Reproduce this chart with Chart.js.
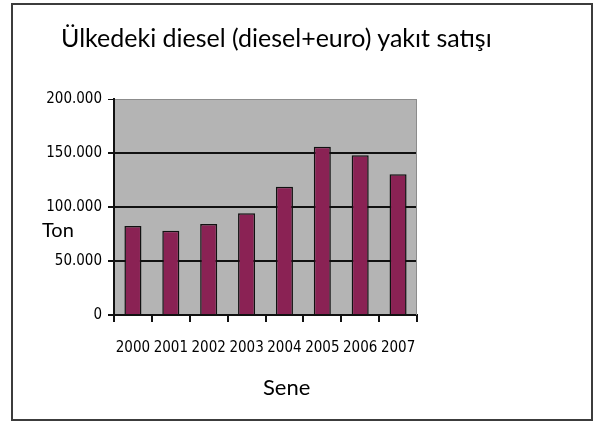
<!DOCTYPE html>
<html><head><meta charset="utf-8">
<script src="https://cdn.jsdelivr.net/npm/chart.js@4"></script>
<style>
html,body{margin:0;padding:0;background:#fff;overflow:hidden;width:593px;height:421px}
#wrap{position:relative;width:593px;height:421px}
#frame{position:absolute;left:11px;top:3px;width:582px;height:418px;box-sizing:border-box;border:2px solid #3c3c3c;}
canvas{position:absolute;left:0;top:0}
.lbl{position:absolute;color:#000;font-family:Lato,'Open Sans',sans-serif;white-space:nowrap;line-height:1}
#title{left:61px;top:25px;font-size:25px}
#ylab{left:42px;top:219px;font-size:20px}
#xlab{left:263px;top:376px;font-size:22px}
</style></head>
<body><div id="wrap"><div id="frame"></div><canvas id="c" width="593" height="421"></canvas>
<div id="title" class="lbl">Ülkedeki diesel (diesel+euro) yakıt satışı</div>
<div id="ylab" class="lbl">Ton</div><div id="xlab" class="lbl">Sene</div></div>
<script>
const years = ['2000','2001','2002','2003','2004','2005','2006','2007'];
const salesTon = [82400, 78000, 84300, 94200, 118800, 155800, 148000, 130300];
const yTickValues = [0, 50000, 100000, 150000, 200000];
const yTickLabels = ['0', '50.000', '100.000', '150.000', '200.000'];

const yTickFont = {family: "'Liberation Sans Narrow','DejaVu Sans Condensed',sans-serif", size: 15};
const xTickFont = {family: "'Liberation Sans Narrow','DejaVu Sans Condensed',sans-serif", size: 15};

const plotBg = {
  id: 'plotBg',
  beforeDraw(chart) {
    const {ctx, chartArea: a} = chart;
    ctx.save();
    ctx.fillStyle = '#b4b4b4';
    ctx.fillRect(a.left, a.top, a.right - a.left, a.bottom - a.top);
    ctx.restore();
  },
  beforeDatasetsDraw(chart) {
    const {ctx, chartArea: a} = chart;
    ctx.save();
    ctx.strokeStyle = '#8c8c8c';
    ctx.lineWidth = 1;
    ctx.beginPath();
    ctx.moveTo(a.right - 0.5, a.top);
    ctx.lineTo(a.right - 0.5, a.bottom);
    ctx.stroke();
    ctx.restore();
  }
};

new Chart(document.getElementById('c'), {
  type: 'bar',
  data: {
    labels: years,
    datasets: [{
      data: salesTon,
      backgroundColor: '#8a2254',
      borderColor: '#111',
      borderWidth: 1.5,
      categoryPercentage: 1,
      barPercentage: 0.45
    }]
  },
  options: {
    responsive: false,
    devicePixelRatio: 1,
    animation: false,
    layout: {padding: {left: 0, right: 176, top: 99, bottom: 0}},
    plugins: {legend: {display: false}, tooltip: {enabled: false}},
    scales: {
      x: {
        grid: {offset: true, drawOnChartArea: false, tickLength: 7, color: '#111', lineWidth: 2},
        border: {color: '#111', width: 2},
        ticks: {font: xTickFont, color: '#000', padding: 17, maxRotation: 0, autoSkip: false},
        afterFit(s) { s.height = 106; }
      },
      y: {
        min: 0, max: 200000,
        afterBuildTicks(s) { s.ticks = yTickValues.map(v => ({value: v})); },
        grid: {
          color: c => c.tick && c.tick.value === 200000 ? '#8c8c8c' : '#111',
          lineWidth: c => c.tick && c.tick.value === 200000 ? 1 : 2,
          tickColor: '#111', tickLength: 6
        },
        border: {color: '#111', width: 2},
        ticks: {
          font: yTickFont, color: '#000', padding: 6,
          callback: (v) => { const i = yTickValues.indexOf(v); return i >= 0 ? yTickLabels[i] : ''; }
        },
        afterFit(s) { s.width = 114; }
      }
    }
  },
  plugins: [plotBg]
});
</script>
</body></html>
